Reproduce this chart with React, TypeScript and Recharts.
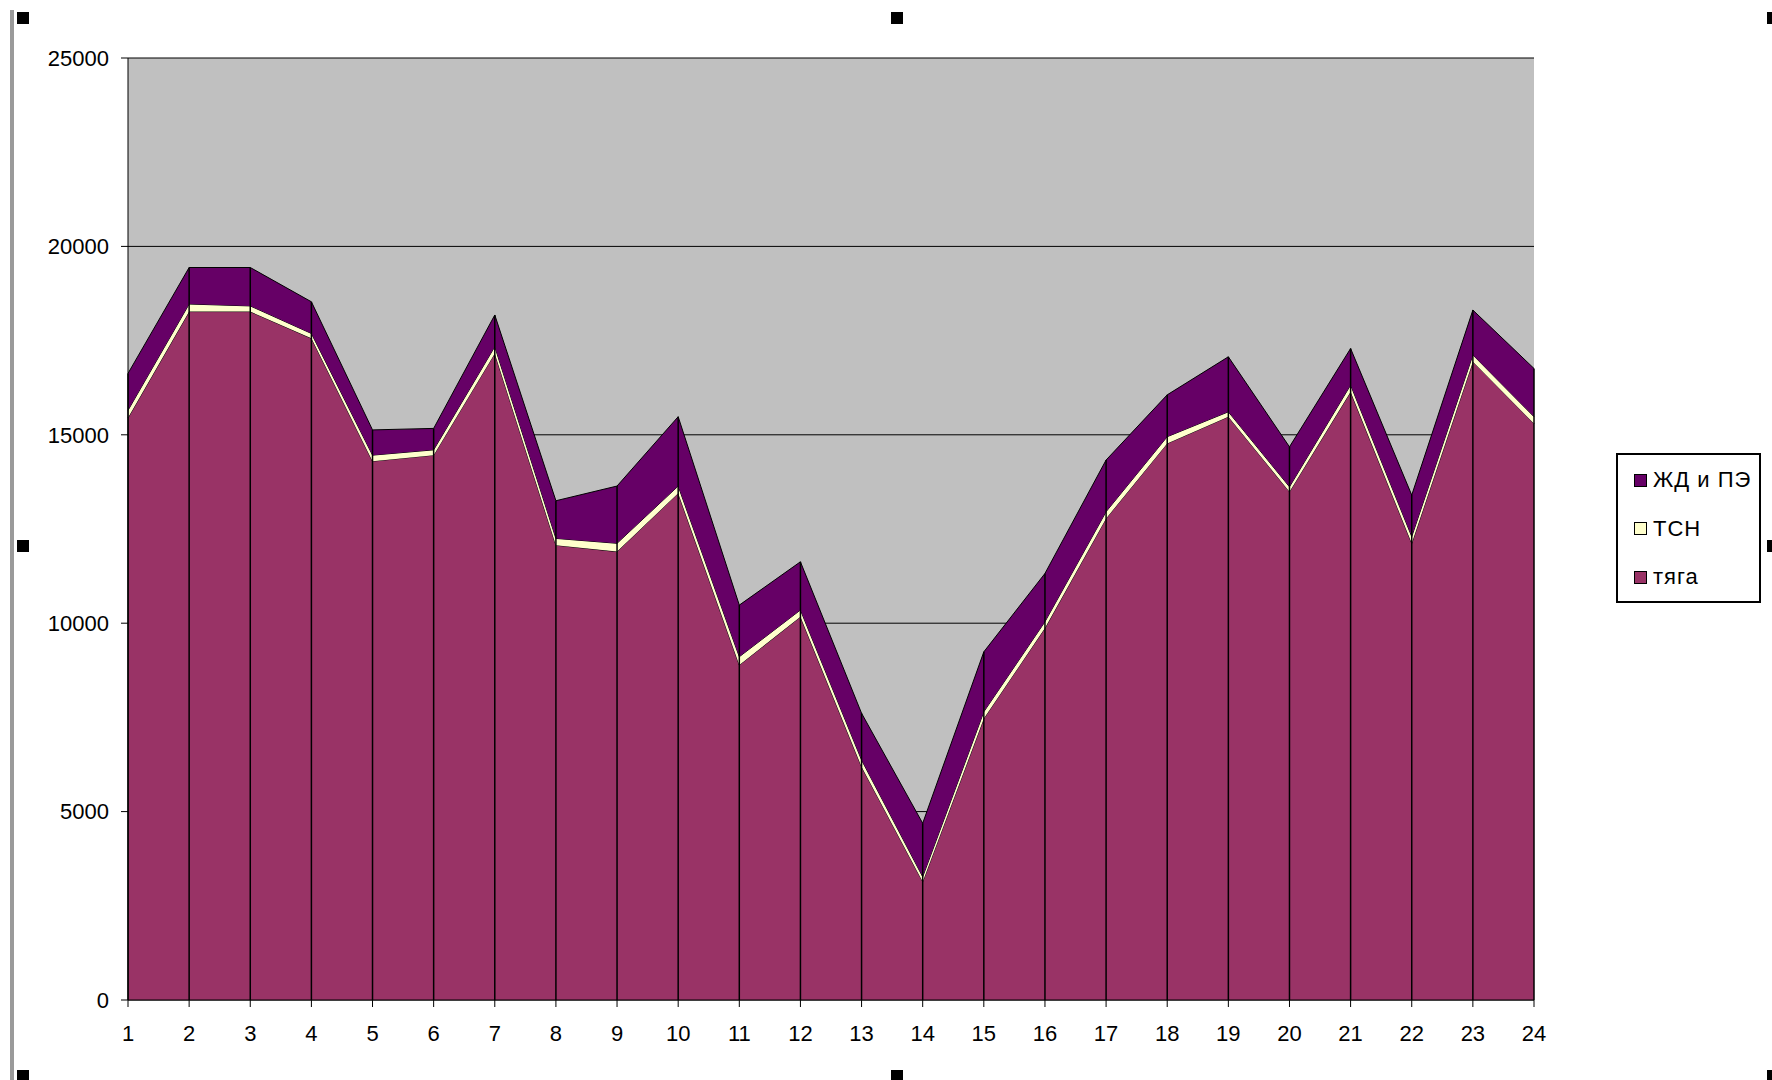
import React from 'react';
import { AreaChart, Area, XAxis, YAxis, CartesianGrid, ReferenceLine } from 'recharts';

const hours = ['1', '2', '3', '4', '5', '6', '7', '8', '9', '10', '11', '12', '13', '14', '15', '16', '17', '18', '19', '20', '21', '22', '23', '24'];
const tyaga = [15450, 18270, 18270, 17560, 14300, 14460, 17160, 12070, 11900, 13450, 8890, 10170, 6190, 3140, 7470, 9870, 12780, 14770, 15480, 13490, 16140, 12120, 16940, 15300];
const tsn = [200, 200, 150, 130, 160, 140, 180, 180, 220, 190, 220, 180, 180, 130, 180, 170, 180, 180, 130, 130, 180, 180, 180, 180];
const zhd = [980, 970, 1020, 840, 670, 570, 840, 1000, 1520, 1840, 1370, 1280, 1240, 1420, 1590, 1280, 1370, 1110, 1460, 1060, 970, 1100, 1190, 1280];
const yTicks = [0, 5000, 10000, 15000, 20000, 25000];

const seriesNames = { zhd: 'ЖД и ПЭ', tsn: 'ТСН', tyaga: 'тяга' };
const colors = { zhd: '#660066', tsn: '#FFFFCC', tyaga: '#993366' };

const data = hours.map((h, i) => ({
  hour: h,
  tyaga: tyaga[i],
  tsn: tsn[i],
  zhd: zhd[i],
  total: tyaga[i] + tsn[i] + zhd[i],
}));

const FONT = '"Liberation Sans", Arial, sans-serif';

const handle = (left: number, top: number) => (
  <div style={{ position: 'absolute', left, top, width: 12, height: 12, background: '#000' }} />
);

export default function App() {
  const legendItems: Array<'zhd' | 'tsn' | 'tyaga'> = ['zhd', 'tsn', 'tyaga'];
  return (
    <div style={{ position: 'absolute', left: 0, top: 0, width: 1772, height: 1080, background: '#fff', overflow: 'hidden', fontFamily: FONT }}>
      <div style={{ position: 'absolute', left: 10, top: 10, width: 4, height: 1070, background: '#9a9a9a' }} />
      <div style={{ position: 'absolute', left: 0, top: 0 }}>
        <AreaChart width={1772} height={1080} data={data} margin={{ top: 58, right: 238, bottom: 40, left: 68 }}>
          <CartesianGrid vertical={false} stroke="#000" strokeOpacity={1} fill="#C0C0C0" fillOpacity={1} />
          <XAxis
            dataKey="hour"
            height={40}
            stroke="#000"
            tickLine={{ stroke: '#000' }}
            tickSize={7}
            tickMargin={18}
            interval={0}
            tick={{ fill: '#000', fontSize: 22, fontFamily: FONT }}
          />
          <YAxis
            width={60}
            domain={[0, 25000]}
            ticks={yTicks}
            stroke="#000"
            tickSize={7}
            tickMargin={12}
            interval={0}
            tick={{ fill: '#000', fontSize: 22, fontFamily: FONT }}
          />
          <Area type="linear" dataKey="tyaga" stackId="1" stroke="#000" strokeWidth={1} fill={colors.tyaga} fillOpacity={1} isAnimationActive={false} dot={false} activeDot={false} />
          <Area type="linear" dataKey="tsn" stackId="1" stroke="#000" strokeWidth={1} fill={colors.tsn} fillOpacity={1} isAnimationActive={false} dot={false} activeDot={false} />
          <Area type="linear" dataKey="zhd" stackId="1" stroke="#000" strokeWidth={1} fill={colors.zhd} fillOpacity={1} isAnimationActive={false} dot={false} activeDot={false} />
          {data.map((d) => (
            <ReferenceLine
              key={d.hour}
              segment={[{ x: d.hour, y: 0 }, { x: d.hour, y: d.total }]}
              stroke="#000"
              strokeWidth={1.5}
            />
          ))}
        </AreaChart>
      </div>
      <div
        style={{
          position: 'absolute',
          left: 1616,
          top: 453,
          width: 141,
          height: 146,
          border: '2px solid #000',
          background: '#fff',
        }}
      >
        {legendItems.map((k, i) => (
          <div key={k} style={{ position: 'absolute', left: 16, top: 14 + i * 48.5, height: 22, display: 'flex', alignItems: 'center' }}>
            <div style={{ width: 11, height: 11, border: '1.5px solid #000', background: colors[k] }} />
            <span style={{ marginLeft: 6, fontSize: 22, letterSpacing: 1, color: '#000', fontFamily: FONT, whiteSpace: 'nowrap' }}>{seriesNames[k]}</span>
          </div>
        ))}
      </div>
      {handle(17, 12)}
      {handle(891, 12)}
      {handle(1767, 12)}
      {handle(17, 540)}
      {handle(1767, 540)}
      {handle(17, 1070)}
      {handle(891, 1070)}
      {handle(1767, 1070)}
    </div>
  );
}
